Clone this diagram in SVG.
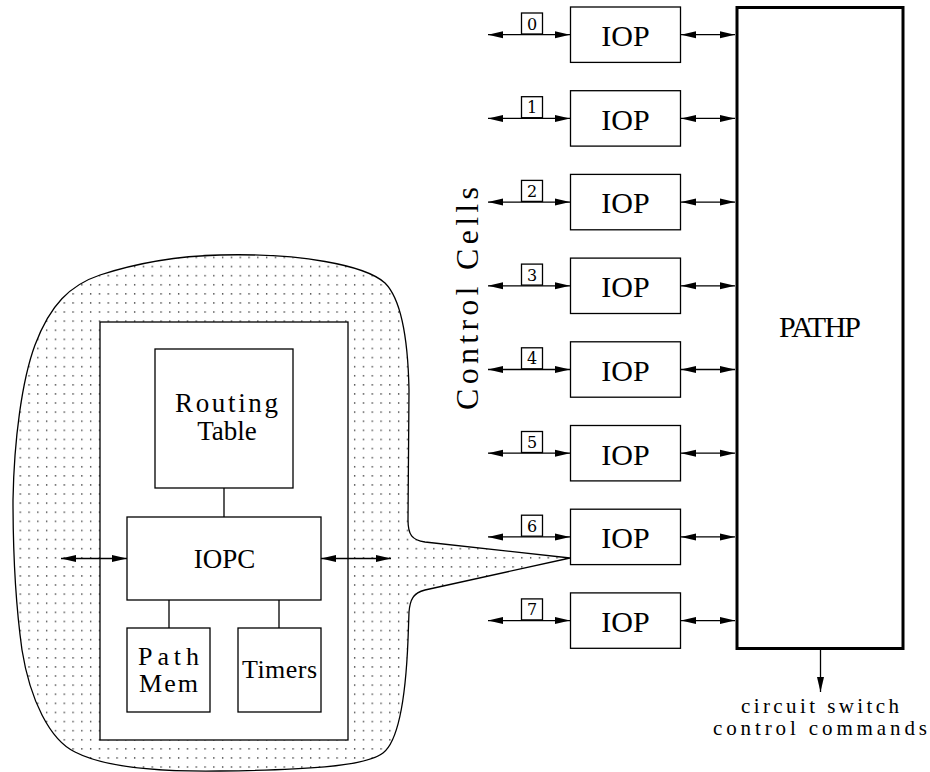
<svg xmlns="http://www.w3.org/2000/svg" width="930" height="772" viewBox="0 0 930 772">
<style>
.box{fill:#fff;stroke:#000;stroke-width:1.3}
.thick{fill:#fff;stroke:#000;stroke-width:3}
.ln{fill:none;stroke:#000;stroke-width:1.3}
.arr{fill:none;stroke:#000;stroke-width:1.3;marker-start:url(#ah);marker-end:url(#ah)}
.arr1{fill:none;stroke:#000;stroke-width:1.3;marker-end:url(#ah)}
text{font-family:"Liberation Serif","Times New Roman",serif;fill:#000;text-anchor:middle}
.big{font-size:30px}
.mid{font-size:27px}
.sm{font-size:26px}
.dig{font-family:"DejaVu Serif","Liberation Serif",serif;font-size:16px}
.cap{font-size:21px}
</style>
<defs>
<marker id="ah" markerUnits="userSpaceOnUse" markerWidth="16" markerHeight="8" refX="15" refY="4" orient="auto-start-reverse" viewBox="0 0 16 8">
<path d="M0,0.5 L15,4 L0,7.5 z" fill="#000"/>
</marker>
<pattern id="dots" width="8.8" height="9.1" patternUnits="userSpaceOnUse">
<rect x="2" y="2" width="1.3" height="1.3" fill="#222"/>
</pattern>
</defs>
<rect width="930" height="772" fill="#fff"/>

<g id="blob">
<path d="M 220 255 C 300 253 365 265 385 283 C 402 300 408 340 409 390 L 408 520 C 408 535 412 540 425 542 L 570 558 L 425 590 C 413 593 410 600 409 612 L 408 640 C 406 690 400 740 383 753 C 365 767 300 770 220 771 C 150 772 100 765 75 752 C 50 740 30 700 22 650 C 15 600 13 540 13 500 C 14 440 22 380 35 345 C 50 305 70 285 100 275 C 140 262 180 256 220 255 Z" fill="#fff" stroke="none"/>
<path d="M 220 255 C 300 253 365 265 385 283 C 402 300 408 340 409 390 L 408 520 C 408 535 412 540 425 542 L 570 558 L 425 590 C 413 593 410 600 409 612 L 408 640 C 406 690 400 740 383 753 C 365 767 300 770 220 771 C 150 772 100 765 75 752 C 50 740 30 700 22 650 C 15 600 13 540 13 500 C 14 440 22 380 35 345 C 50 305 70 285 100 275 C 140 262 180 256 220 255 Z" fill="url(#dots)" stroke="#000" stroke-width="1.3"/>
</g>

<g id="iopc-frame">
<rect class="box" x="100" y="322" width="248" height="418"/>
</g>

<g id="connectors">
<line class="ln" x1="224" y1="488" x2="224" y2="517"/>
<line class="ln" x1="169" y1="600" x2="169" y2="628"/>
<line class="ln" x1="279" y1="600" x2="279" y2="628"/>
<line class="arr" x1="61" y1="558.5" x2="127" y2="558.5"/>
<line class="arr" x1="321" y1="558.5" x2="391" y2="558.5"/>

<line class="arr" x1="488" y1="34.7" x2="570" y2="34.7"/>
<line class="arr" x1="488" y1="118.4" x2="570" y2="118.4"/>
<line class="arr" x1="488" y1="202.1" x2="570" y2="202.1"/>
<line class="arr" x1="488" y1="285.8" x2="570" y2="285.8"/>
<line class="arr" x1="488" y1="369.5" x2="570" y2="369.5"/>
<line class="arr" x1="488" y1="453.2" x2="570" y2="453.2"/>
<line class="arr" x1="488" y1="536.9" x2="570" y2="536.9"/>
<line class="arr" x1="488" y1="620.6" x2="570" y2="620.6"/>

<line class="arr" x1="681" y1="34.7" x2="735" y2="34.7"/>
<line class="arr" x1="681" y1="118.4" x2="735" y2="118.4"/>
<line class="arr" x1="681" y1="202.1" x2="735" y2="202.1"/>
<line class="arr" x1="681" y1="285.8" x2="735" y2="285.8"/>
<line class="arr" x1="681" y1="369.5" x2="735" y2="369.5"/>
<line class="arr" x1="681" y1="453.2" x2="735" y2="453.2"/>
<line class="arr" x1="681" y1="536.9" x2="735" y2="536.9"/>
<line class="arr" x1="681" y1="620.6" x2="735" y2="620.6"/>

<line class="arr1" x1="820.5" y1="650" x2="820.5" y2="692"/>
</g>

<g id="labels">
<g><rect class="box" x="521.5" y="13" width="21" height="21"/><text class="dig" x="532" y="29.5">0</text></g>
<g><rect class="box" x="521.5" y="96.7" width="21" height="21"/><text class="dig" x="532" y="113.2">1</text></g>
<g><rect class="box" x="521.5" y="180.4" width="21" height="21"/><text class="dig" x="532" y="196.9">2</text></g>
<g><rect class="box" x="521.5" y="264.1" width="21" height="21"/><text class="dig" x="532" y="280.6">3</text></g>
<g><rect class="box" x="521.5" y="347.8" width="21" height="21"/><text class="dig" x="532" y="364.3">4</text></g>
<g><rect class="box" x="521.5" y="431.5" width="21" height="21"/><text class="dig" x="532" y="448">5</text></g>
<g><rect class="box" x="521.5" y="515.2" width="21" height="21"/><text class="dig" x="532" y="531.7">6</text></g>
<g><rect class="box" x="521.5" y="598.9" width="21" height="21"/><text class="dig" x="532" y="615.4">7</text></g>
<text font-size="32" transform="translate(478 298.5) rotate(-90)" textLength="223" lengthAdjust="spacing">Control  Cells</text>
<text class="cap" x="820" y="713" textLength="158" lengthAdjust="spacing">circuit  switch</text>
<text class="cap" x="820" y="735" textLength="214" lengthAdjust="spacing">control  commands</text>
</g>

<g id="routing-table">
<rect class="box" x="155" y="349" width="138" height="139"/>
<text class="mid" x="226.5" y="412" textLength="103" lengthAdjust="spacing">Routing</text>
<text class="mid" x="227" y="440">Table</text>
</g>
<g id="iopc">
<rect class="box" x="127" y="517" width="194" height="83"/>
<text class="mid" x="224.5" y="568" font-size="26">IOPC</text>
</g>
<g id="path-mem">
<rect class="box" x="127" y="628" width="83" height="84"/>
<text class="sm" x="168.5" y="665" textLength="61" lengthAdjust="spacing">Path</text>
<text class="sm" x="168.5" y="692" textLength="59" lengthAdjust="spacing">Mem</text>
</g>
<g id="timers">
<rect class="box" x="238" y="628" width="83" height="84"/>
<text class="sm" x="279.5" y="678" font-size="25" textLength="75" lengthAdjust="spacing">Timers</text>
</g>

<g id="iop0"><rect class="box" x="570.5" y="7" width="110" height="55.4"/><text class="big" x="625.5" y="46">IOP</text></g>
<g id="iop1"><rect class="box" x="570.5" y="90.7" width="110" height="55.4"/><text class="big" x="625.5" y="129.7">IOP</text></g>
<g id="iop2"><rect class="box" x="570.5" y="174.4" width="110" height="55.4"/><text class="big" x="625.5" y="213.4">IOP</text></g>
<g id="iop3"><rect class="box" x="570.5" y="258.1" width="110" height="55.4"/><text class="big" x="625.5" y="297.1">IOP</text></g>
<g id="iop4"><rect class="box" x="570.5" y="341.8" width="110" height="55.4"/><text class="big" x="625.5" y="380.8">IOP</text></g>
<g id="iop5"><rect class="box" x="570.5" y="425.5" width="110" height="55.4"/><text class="big" x="625.5" y="464.5">IOP</text></g>
<g id="iop6"><rect class="box" x="570.5" y="509.2" width="110" height="55.4"/><text class="big" x="625.5" y="548.2">IOP</text></g>
<g id="iop7"><rect class="box" x="570.5" y="592.9" width="110" height="55.4"/><text class="big" x="625.5" y="631.9">IOP</text></g>

<g id="pathp">
<rect class="thick" x="737" y="7.5" width="166" height="641"/>
<text class="big" x="820" y="337" font-size="28" textLength="82" lengthAdjust="spacing">PATHP</text>
</g>
</svg>
